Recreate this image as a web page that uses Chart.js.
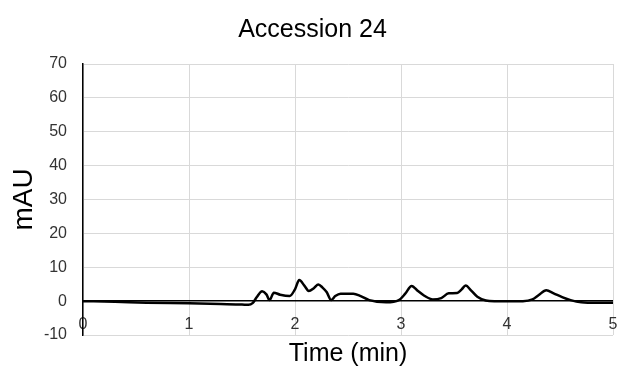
<!DOCTYPE html>
<html>
<head>
<meta charset="utf-8">
<script src="https://cdn.jsdelivr.net/npm/chart.js@4"></script>
<style>
  html, body { margin: 0; padding: 0; background: #fff; }
  #wrap { width: 619px; height: 369px; }
</style>
</head>
<body>
<div id="wrap"><canvas id="c" width="619" height="369"></canvas></div>
<script>
// Chromatogram trace: retention time (min) and absorbance (mAU)
const timeMin = [
  0, 0.3, 0.6, 1.0, 1.3, 1.5, 1.56, 1.6, 1.64, 1.69, 1.73, 1.76, 1.80, 1.86, 1.95,
  2.0, 2.04, 2.09, 2.13, 2.18, 2.22, 2.26, 2.30, 2.34, 2.38, 2.43, 2.55, 2.62, 2.70,
  2.86, 2.98, 3.04, 3.10, 3.16, 3.22, 3.30, 3.38, 3.45, 3.53, 3.57, 3.61, 3.66, 3.72,
  3.80, 3.88, 4.15, 4.24, 4.30, 4.37, 4.44, 4.52, 4.60, 4.70, 4.85, 5.0
];
const absorbance = [
  0, -0.2, -0.45, -0.65, -0.85, -1.0, -1.1, -0.6, 1.2, 2.9, 2.0, 0.3, 2.5, 1.9, 1.5,
  3.5, 6.2, 4.5, 3.0, 3.9, 4.9, 4.0, 2.6, 0.3, 1.5, 2.2, 2.2, 1.5, 0.3,
  -0.35, 0.3, 2.2, 4.5, 3.0, 1.6, 0.5, 0.9, 2.3, 2.4, 3.4, 4.6, 3.2, 1.3,
  0.2, 0, 0, 0.5, 1.8, 3.2, 2.3, 1.2, 0.3, -0.35, -0.5, -0.5
];
const xTicks = [0, 1, 2, 3, 4, 5];
const yTicks = [-10, 0, 10, 20, 30, 40, 50, 60, 70];

const points = timeMin.map((t, i) => ({ x: t, y: absorbance[i] }));
const gridGray = '#d9d9d9';
const tickColor = '#333333';
const font = 'Arial, "Liberation Sans", sans-serif';

new Chart(document.getElementById('c'), {
  type: 'line',
  data: {
    datasets: [{
      data: points,
      xAxisID: 'x',
      yAxisID: 'y',
      borderColor: '#000',
      borderWidth: 2.5,
      pointRadius: 0,
      fill: false,
      cubicInterpolationMode: 'monotone'
    }]
  },
  options: {
    responsive: false,
    animation: false,
    layout: { padding: { left: 12, right: 6, top: 0, bottom: 0 } },
    plugins: {
      legend: { display: false },
      tooltip: { enabled: false },
      title: {
        display: true,
        text: 'Accession 24',
        color: '#000',
        font: { family: font, size: 25, weight: 'normal' },
        padding: { top: 15, bottom: 19 }
      }
    },
    scales: {
      // time axis crossing at 0 mAU, with its labels just below the zero line
      x: {
        type: 'linear',
        position: { y: 0 },
        min: xTicks[0],
        max: xTicks[xTicks.length - 1],
        afterBuildTicks: s => { s.ticks = xTicks.map(v => ({ value: v })); },
        afterFit: s => { s.paddingLeft = 0; s.paddingRight = 0; },
        grid: { color: gridGray, lineWidth: 1, drawTicks: false },
        border: { display: false },
        ticks: {
          color: tickColor,
          font: { family: font, size: 16 },
          padding: 14,
          autoSkip: false,
          maxRotation: 0,
          minRotation: 0
        }
      },
      // bottom axis carrying only the time title
      x2: {
        type: 'linear',
        position: 'bottom',
        min: xTicks[0],
        max: xTicks[xTicks.length - 1],
        grid: { display: false, drawTicks: false },
        border: { display: false },
        ticks: { display: false },
        title: {
          display: true,
          text: 'Time (min)',
          color: '#000',
          font: { family: font, size: 25 },
          padding: { top: 4, bottom: 0 }
        }
      },
      y: {
        min: yTicks[0],
        max: yTicks[yTicks.length - 1],
        afterBuildTicks: s => { s.ticks = yTicks.map(v => ({ value: v })); },
        afterFit: s => { s.width = 71; },
        grid: {
          color: c => (c.tick && c.tick.value === 0 ? '#000' : gridGray),
          lineWidth: c => (c.tick && c.tick.value === 0 ? 1.5 : 1),
          drawTicks: false
        },
        border: { color: '#000', width: 1.5 },
        ticks: {
          color: tickColor,
          font: { family: font, size: 16 },
          padding: 16
        },
        title: {
          display: true,
          text: 'mAU',
          color: '#000',
          font: { family: font, size: 28, lineHeight: 0.9 },
          padding: { top: 0, bottom: 0 }
        }
      }
    }
  }
});
</script>
</body>
</html>
